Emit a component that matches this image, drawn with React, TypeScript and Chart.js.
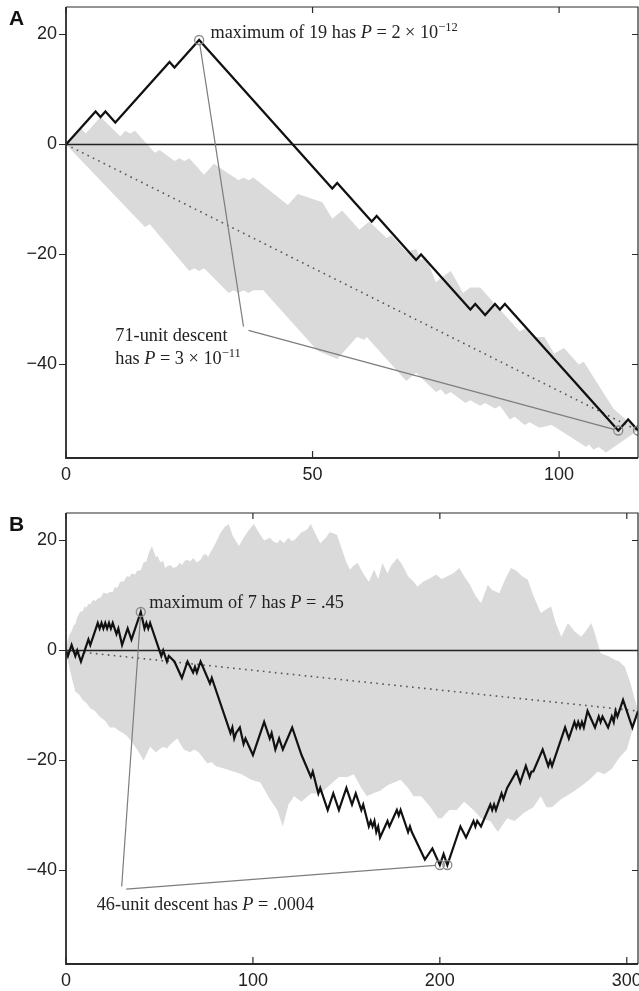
import { useEffect, useRef } from 'react';
import { Chart, registerables } from 'chart.js';
Chart.register(...registerables);

type Pt = [number, number];
type Part = { t: string; it?: boolean; sup?: boolean };

// ---------- shared axis values ----------
const yRange: Pt = [-57, 25];
const yTickValues = [-40, -20, 0, 20];

// ---------- Panel A ----------
const xMaxA = 116;
const xTicksA = [0, 50, 100];
const walkA: Pt[] = [
  [0, 0], [6, 6], [7, 5], [8, 6], [10, 4], [21, 15], [22, 14], [27, 19], [54, -8], [55, -7],
  [62, -14], [63, -13], [71, -21], [72, -20], [82, -30], [83, -29], [85, -31], [87, -29], [88, -30],
  [89, -29], [112, -52], [114, -50], [116, -52],
];
const bandUpperA: Pt[] = [
  [0, 0], [3, 3], [4, 2], [7, 5], [11, 1.5], [12, 2.5], [13, 2], [14, 2.5], [18, -1.5], [19, -1],
  [22, -3], [23, -2.5], [24, -3], [25, -2.5], [28, -5.5], [30, -3.5], [35, -6.5], [36, -6], [37, -6.5],
  [38, -6], [45, -11], [47, -9], [52, -10.5], [54, -13.5], [56, -12], [59.5, -15.5], [61.5, -14],
  [65, -17], [66, -16.5], [69, -19.5], [71, -19], [72, -21], [73, -20.5], [75, -25], [78, -23],
  [79, -24.5], [80.5, -27], [82, -26], [84, -26], [92, -34], [93, -33.5], [95, -35], [97, -35],
  [99, -38], [101, -37], [104, -40], [105, -39.5], [111, -48], [116, -52],
];
const bandLowerA: Pt[] = [
  [0, 0], [16, -15], [17, -14.5], [25, -23], [26, -22.5], [27, -23], [28, -22.5], [33, -27], [34, -26.5],
  [35, -27], [36, -26.5], [37, -27], [38, -26.5], [40, -26.5], [51, -37.5], [55, -39], [59, -35],
  [60.5, -35.5], [61, -35], [69, -43], [71, -41.5], [75, -45], [76, -44.5], [77, -45.5], [78, -45],
  [81, -47], [82, -46.5], [84, -47.5], [85, -47], [87, -48], [88, -47.5], [90, -50], [91, -49.5],
  [93, -51], [94, -50.5], [96, -51.5], [98.5, -51], [105.5, -55], [106, -54.5], [107, -55.5],
  [108, -55], [109.5, -56], [116, -52],
];
const maxA: Pt = [27, 19];
const minsA: Pt[] = [[112, -52], [116, -52]];
const maxLabelA: Part[] = [{ t: 'maximum of 19 has ' }, { t: 'P', it: true }, { t: ' = 2 × 10' }, { t: '−12', sup: true }];
const descLabelA: Part[][] = [
  [{ t: '71-unit descent' }],
  [{ t: 'has ' }, { t: 'P', it: true }, { t: ' = 3 × 10' }, { t: '−11', sup: true }],
];
const maxLabelPosA: Pt = [29.3, 19.4];
const descLabelPosA: Pt = [10, -35.7];
const leaderJointsA: Pt[] = [[36, -33.1], [37, -33.8]];

// ---------- Panel B ----------
const xMaxB = 306;
const xTicksB = [0, 100, 200, 300];
const walkB: Pt[] = [
  [0, 0], [1, -1], [3, 1], [5, -1], [6, 0], [8, -2], [12, 2], [13, 1], [17, 5], [18, 4], [19, 5], [20, 4],
  [21, 5], [22, 4], [23, 5], [24, 4], [25, 5], [27, 3], [28, 4], [30, 1], [33, 4], [35, 2], [40, 7],
  [42, 4], [43, 5], [44, 4], [45, 5], [46, 4], [51, -1], [52, 0], [54, -2], [55, -1], [58, -2], [62, -5],
  [65, -2], [68, -4], [69, -3], [70, -4], [72, -2], [77, -6], [78, -5], [79, -6], [88, -15], [89, -14],
  [90, -16], [91, -15], [93, -14], [95, -17], [96, -16], [100, -19], [106, -13], [109, -16], [110, -15],
  [112, -18], [114, -16], [116, -18], [121, -14], [126, -19], [131, -23], [132, -22], [135, -26],
  [136, -25], [140, -29], [143, -26], [146, -29], [150, -25], [153, -28], [155, -26], [158, -29],
  [159, -28], [162, -32], [163, -31], [164, -32], [165, -31], [166, -33], [167, -32], [168, -34],
  [172, -31], [173, -32], [177, -29], [178, -30], [179, -29], [183, -33], [184, -32], [185, -33],
  [192, -38], [196, -36], [200, -39], [202, -37], [204, -39], [211, -32], [214, -34], [218, -31],
  [219, -32], [220, -31], [222, -32], [227, -28], [228, -29], [229, -28], [230, -29], [233, -26],
  [234, -27], [236, -25], [241, -22], [243, -24], [246, -21], [248, -23], [249, -22], [250, -22],
  [255, -18], [258, -21], [259, -20], [260, -21], [267, -14], [269, -16], [272, -13], [273, -14],
  [274, -13], [275, -14], [276, -13], [277, -14], [279, -11], [283, -14], [285, -12], [286, -13],
  [287, -12], [290, -14], [292, -12], [293, -13], [294, -11], [295, -12], [298, -9], [303, -14], [306, -11],
];
const bandUpperB: Pt[] = [
  [0, 0], [1, 2], [2, 3], [3, 3.5], [4, 4.5], [5, 4.8], [6, 6], [7.5, 7], [9, 7.2], [10, 8], [11, 7.8],
  [12, 8.5], [13, 8.4], [14.5, 9.2], [16, 9], [17, 9.5], [18.5, 9.6], [20, 10.5], [22, 10.3], [23.5, 10.7],
  [25, 10.6], [26, 11.5], [27.5, 11.4], [29, 12.5], [31, 12.6], [32.5, 13.5], [34, 13.4], [35, 14],
  [37, 13.8], [38, 14.5], [40, 14.6], [41.5, 16], [43, 16.2], [44, 17.5], [46, 19], [48, 17], [49, 17.2],
  [50.5, 16], [52, 16.3], [53, 15], [54.5, 15.4], [56, 15.5], [57.5, 15], [59.5, 15.3], [61, 16],
  [62, 15.5], [63.5, 16.3], [65, 16.5], [66.5, 16.2], [68, 16.8], [70, 16], [72, 16.5], [73.5, 17.4],
  [75, 17.5], [76, 17], [77, 17.7], [80, 19.5], [82.5, 21.3], [85, 22.5], [87, 23], [89, 21], [92.5, 19],
  [95, 20.5], [98, 22], [100.5, 23], [103, 21.5], [106, 20], [109, 20.5], [111, 19.8], [113, 19.5],
  [114.5, 20.2], [116.5, 19.5], [119, 20.5], [120.5, 20], [122, 20], [126, 21.5], [129, 22], [131, 23],
  [133, 21.5], [136, 19.5], [139, 20.5], [141, 21.5], [143, 21.3], [145, 21], [148, 18], [150, 16],
  [152, 14.7], [154, 15.5], [156, 15.9], [159, 14], [162, 12.5], [164.8, 14.7], [167, 13], [169.3, 15.9],
  [172, 14], [174, 15.5], [177.3, 16.8], [180, 15.5], [183, 13.5], [186, 12.5], [188, 11.6], [191, 12.5],
  [194, 13], [197.9, 13.8], [201, 13], [204, 13.5], [207, 14], [210.4, 15], [213, 13.5], [216, 12],
  [219, 10], [222, 8.6], [225.6, 11.9], [228, 11], [231.8, 10.4], [235, 13], [238, 15], [241, 14.5],
  [244, 13.5], [247, 12.9], [250, 10], [254, 6.8], [257, 7.5], [259.5, 8], [262, 5], [265, 2.5],
  [268.5, 5], [272, 3.5], [275.6, 2.5], [278, 3.5], [281, 5], [283, 3], [286, -0.5], [290, -1],
  [293.5, -1.7], [296, -2], [299, -3], [302, -6], [306, -11],
];
const bandLowerB: Pt[] = [
  [0, 0], [2, -3.5], [5, -7.5], [7, -8], [9, -9], [11, -9.6], [13, -10.5], [15.5, -11], [18, -12], [21, -12.8],
  [23.5, -14], [26, -14], [28, -14.5], [30.5, -15], [32.5, -15.5], [35, -16.5], [37, -17.5], [39, -18.5],
  [41.5, -20], [45, -17.5], [48, -18.5], [50, -18], [52, -17.5], [54, -17.8], [56, -17], [59.5, -16],
  [63, -18], [66.5, -18.5], [68.5, -18], [71, -18.5], [75.5, -20.5], [78, -20.3], [80, -21], [85, -21.5],
  [89.5, -22], [94, -22.5], [99, -23.5], [104, -24], [109, -27], [113, -29], [116, -32], [119, -28],
  [122, -26.5], [126, -27.5], [131, -26], [136, -26], [141, -24.5], [146, -23], [150.5, -23], [154, -22.5],
  [158, -25], [161, -26.5], [164, -26], [168, -25.5], [172, -24.5], [179, -23.5], [183, -25], [186, -26.5],
  [190, -26.5], [195, -28.5], [199, -30.5], [201, -30.5], [205, -29], [209, -29], [213, -27.5], [218, -29],
  [222, -30.5], [227, -31], [231, -33], [236, -30.5], [240, -31], [245, -29.5], [250, -28.5], [254, -26.5],
  [257, -28.5], [260, -28.5], [265, -27], [270, -26], [275.5, -24.7], [280, -23.5], [284.5, -22],
  [288, -22.5], [292, -21.5], [296, -19.5], [300, -18], [306, -11],
];
const maxB: Pt = [40, 7];
const minsB: Pt[] = [[200, -39], [204, -39]];
const maxLabelB: Part[] = [{ t: 'maximum of 7 has ' }, { t: 'P', it: true }, { t: ' = .45' }];
const descLabelB: Part[][] = [[{ t: '46-unit descent has ' }, { t: 'P', it: true }, { t: ' = .0004' }]];
const maxLabelPosB: Pt = [44.5, 7.7];
const descLabelPosB: Pt = [16.4, -47.1];
const leaderJointsB: Pt[] = [[29.8, -42.9], [32.2, -43.4]];

// ---------- drawing ----------
interface PanelSpec {
  letter: string;
  xMax: number;
  xTicks: number[];
  walk: Pt[];
  upper: Pt[];
  lower: Pt[];
  max: Pt;
  mins: Pt[];
  maxLabel: Part[];
  maxLabelPos: Pt;
  descLabel: Part[][];
  descLabelPos: Pt;
  joints: Pt[];
  canvasH: number;
  padTop: number;
  xAxisH: number;
}

const SERIF = '"Liberation Serif", "DejaVu Serif", serif';
const SANS = '"Liberation Sans", Arial, sans-serif';
const CIRCLE_R = 4.5;

function drawParts(ctx: CanvasRenderingContext2D, parts: Part[], x: number, y: number) {
  let cx = x;
  ctx.textAlign = 'left';
  ctx.textBaseline = 'alphabetic';
  for (const p of parts) {
    const size = p.sup ? 12.5 : 18.3;
    ctx.font = `${p.it ? 'italic ' : ''}${size}px ${SERIF}`;
    ctx.fillText(p.t, cx, p.sup ? y - 7 : y);
    cx += ctx.measureText(p.t).width;
  }
}

function segment(ctx: CanvasRenderingContext2D, x1: number, y1: number, x2: number, y2: number, cut1: number, cut2: number) {
  const dx = x2 - x1, dy = y2 - y1;
  const len = Math.hypot(dx, dy);
  const ux = dx / len, uy = dy / len;
  ctx.beginPath();
  ctx.moveTo(x1 + ux * cut1, y1 + uy * cut1);
  ctx.lineTo(x2 - ux * cut2, y2 - uy * cut2);
  ctx.stroke();
}

const overlay = {
  id: 'overlay',
  afterDatasetsDraw(chart: any, _args: any, opts: any) {
    const p: PanelSpec = opts.spec;
    const { ctx, chartArea: a } = chart;
    const xs = chart.scales.x, ys = chart.scales.y;
    const px = (v: number) => xs.getPixelForValue(v);
    const py = (v: number) => ys.getPixelForValue(v);
    ctx.save();
    // frame
    ctx.strokeStyle = '#2a2a2a';
    ctx.lineWidth = 1.8;
    ctx.beginPath();
    ctx.moveTo(a.left, a.top);
    ctx.lineTo(a.left, a.bottom);
    ctx.lineTo(a.right, a.bottom);
    ctx.stroke();
    ctx.lineWidth = 1.2;
    ctx.beginPath();
    ctx.moveTo(a.left, a.top);
    ctx.lineTo(a.right, a.top);
    ctx.lineTo(a.right, a.bottom);
    ctx.stroke();
    // ticks
    ctx.lineWidth = 1.2;
    for (const v of p.xTicks) {
      const x = px(v);
      ctx.beginPath();
      ctx.moveTo(x, a.bottom);
      ctx.lineTo(x, a.bottom - 7);
      ctx.moveTo(x, a.top);
      ctx.lineTo(x, a.top + 6);
      ctx.stroke();
    }
    for (const v of yTickValues) {
      const y = py(v);
      ctx.beginPath();
      ctx.moveTo(a.left - 7, y);
      ctx.lineTo(a.left, y);
      ctx.moveTo(a.right, y);
      ctx.lineTo(a.right - 6, y);
      ctx.stroke();
    }
    // leader lines
    ctx.strokeStyle = '#7d7d7d';
    ctx.lineWidth = 1.2;
    const j1 = p.joints[0], j2 = p.joints[1];
    segment(ctx, px(p.max[0]), py(p.max[1]), px(j1[0]), py(j1[1]), CIRCLE_R, 0);
    segment(ctx, px(j2[0]), py(j2[1]), px(p.mins[0][0]), py(p.mins[0][1]), 0, CIRCLE_R);
    // labels
    ctx.fillStyle = '#222';
    drawParts(ctx, p.maxLabel, px(p.maxLabelPos[0]), py(p.maxLabelPos[1]));
    p.descLabel.forEach((line, i) => {
      drawParts(ctx, line, px(p.descLabelPos[0]), py(p.descLabelPos[1]) + i * 23.5);
    });
    // panel letter
    ctx.fillStyle = '#111';
    ctx.font = `bold 21px ${SANS}`;
    ctx.textAlign = 'left';
    ctx.textBaseline = 'alphabetic';
    ctx.fillText(p.letter, 9, a.top + 18);
    ctx.restore();
  },
};

const fmt = (v: number | string) => {
  const n = Number(v);
  return n < 0 ? '\u2212' + Math.abs(n) : String(n);
};

function buildConfig(p: PanelSpec): any {
  const toXY = (arr: Pt[]) => arr.map(([x, y]) => ({ x, y }));
  const band = toXY(p.upper.concat([...p.lower].reverse()));
  const first = p.walk[0];
  const last = p.walk[p.walk.length - 1];
  return {
    type: 'line',
    data: {
      datasets: [
        {
          type: 'scatter', data: toXY([p.max, ...p.mins]), showLine: false, pointRadius: CIRCLE_R,
          pointBorderWidth: 1.3, pointBorderColor: '#8a8a8a', pointBackgroundColor: 'rgba(0,0,0,0)', order: 0,
        },
        {
          data: toXY(p.walk), borderColor: '#111', borderWidth: 2.2, pointRadius: 0, tension: 0,
          borderJoinStyle: 'miter', fill: false, order: 1,
        },
        {
          data: toXY([first, last]), borderColor: '#555', borderWidth: 1.6, borderDash: [1.6, 4.4],
          pointRadius: 0, fill: false, order: 2,
        },
        {
          data: toXY([[0, 0], [p.xMax, 0]]), borderColor: '#222', borderWidth: 1.5, pointRadius: 0, fill: false, order: 3,
        },
        {
          data: band, fill: 'shape', backgroundColor: '#dadada', borderColor: 'rgba(0,0,0,0)', borderWidth: 0,
          pointRadius: 0, tension: 0, order: 4,
        },
      ],
    },
    options: {
      responsive: false,
      animation: false,
      events: [],
      layout: { autoPadding: false, padding: { left: 0, right: 1, top: p.padTop, bottom: 0 } },
      plugins: { legend: { display: false }, tooltip: { enabled: false }, overlay: { spec: p } },
      scales: {
        x: {
          type: 'linear', min: 0, max: p.xMax,
          grid: { display: false, drawTicks: false }, border: { display: false },
          ticks: { padding: 6, color: '#222', font: { family: SANS, size: 18 }, maxRotation: 0, autoSkip: false, callback: fmt },
          afterBuildTicks: (s: any) => { s.ticks = p.xTicks.map((v) => ({ value: v })); },
          afterFit: (s: any) => { s.height = p.xAxisH; s.paddingLeft = 0; s.paddingRight = 0; },
        },
        y: {
          type: 'linear', min: yRange[0], max: yRange[1],
          grid: { display: false, drawTicks: false }, border: { display: false },
          ticks: { padding: 9, color: '#222', font: { family: SANS, size: 18 }, callback: fmt },
          afterBuildTicks: (s: any) => { s.ticks = yTickValues.map((v) => ({ value: v })); },
          afterFit: (s: any) => { s.width = 66; s.paddingTop = 0; s.paddingBottom = 0; },
        },
      },
    },
    plugins: [overlay],
  };
}

const specA: PanelSpec = {
  letter: 'A', xMax: xMaxA, xTicks: xTicksA, walk: walkA, upper: bandUpperA, lower: bandLowerA,
  max: maxA, mins: minsA, maxLabel: maxLabelA, maxLabelPos: maxLabelPosA, descLabel: descLabelA,
  descLabelPos: descLabelPosA, joints: leaderJointsA, canvasH: 494, padTop: 7, xAxisH: 36,
};
const specB: PanelSpec = {
  letter: 'B', xMax: xMaxB, xTicks: xTicksB, walk: walkB, upper: bandUpperB, lower: bandLowerB,
  max: maxB, mins: minsB, maxLabel: maxLabelB, maxLabelPos: maxLabelPosB, descLabel: descLabelB,
  descLabelPos: descLabelPosB, joints: leaderJointsB, canvasH: 497, padTop: 19, xAxisH: 27,
};

function Panel({ spec, top }: { spec: PanelSpec; top: number }) {
  const ref = useRef<HTMLCanvasElement>(null);
  useEffect(() => {
    const chart = new Chart(ref.current as HTMLCanvasElement, buildConfig(spec));
    return () => chart.destroy();
  }, [spec]);
  return (
    <canvas
      ref={ref}
      width={639}
      height={spec.canvasH}
      style={{ position: 'absolute', left: 0, top, width: 639, height: spec.canvasH }}
    />
  );
}

export default function App() {
  return (
    <div style={{ position: 'absolute', left: 0, top: 0, width: 639, height: 991, background: '#fff', overflow: 'hidden' }}>
      <Panel spec={specA} top={0} />
      <Panel spec={specB} top={494} />
    </div>
  );
}
